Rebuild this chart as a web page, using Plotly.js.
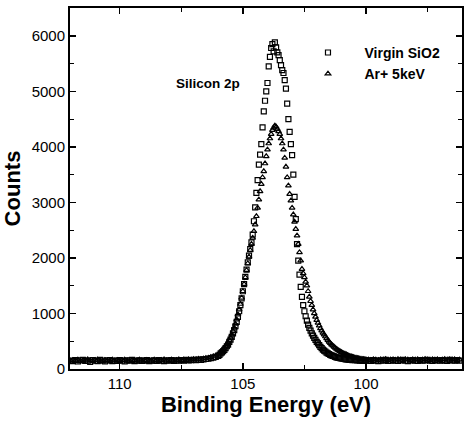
<!DOCTYPE html>
<html>
<head>
<meta charset="utf-8">
<script src="https://cdn.plot.ly/plotly-3.0.1.min.js"></script>
<style>html,body{margin:0;padding:0;background:#fff;}#chart{width:464px;height:421px;}</style>
</head>
<body>
<div id="chart"></div>
<script>
// Binding energy (eV) sampling points
const energy = [
112.0,111.9,111.8,111.7,111.6,111.5,111.4,111.3,111.2,111.1,
111.0,110.9,110.8,110.7,110.6,110.5,110.4,110.3,110.2,110.1,
110.0,109.9,109.8,109.7,109.6,109.5,109.4,109.3,109.2,109.1,
109.0,108.9,108.8,108.7,108.6,108.5,108.4,108.3,108.2,108.1,
108.0,107.9,107.8,107.7,107.6,107.5,107.4,107.3,107.2,107.1,
107.0,106.9,106.8,106.7,106.6,106.5,106.4,106.3,106.2,106.1,
106.0,
105.95,105.90,105.85,105.80,105.75,105.70,105.65,105.60,105.55,105.50,
105.45,105.40,105.35,105.30,105.25,105.20,105.15,105.10,105.05,105.00,
104.95,104.90,104.85,104.80,104.75,104.70,104.65,104.60,104.55,104.50,
104.45,104.40,104.35,104.30,104.25,104.20,104.15,104.10,104.05,104.00,
103.95,103.90,103.85,103.80,103.75,103.70,103.65,103.60,103.55,103.50,
103.45,103.40,103.35,103.30,103.25,103.20,103.15,103.10,103.05,103.00,
102.95,102.90,102.85,102.80,102.75,102.70,102.65,102.60,102.55,102.50,
102.45,102.40,102.35,102.30,102.25,102.20,102.15,102.10,102.05,102.00,
101.95,101.90,101.85,101.80,101.75,101.70,101.65,101.60,101.55,101.50,
101.45,101.40,101.35,101.30,101.25,101.20,101.15,101.10,101.05,101.00,
100.95,100.90,100.85,100.80,100.75,100.70,100.65,100.60,100.55,100.50,
100.45,100.40,100.35,100.30,100.25,100.20,100.15,100.10,100.05,100.00,
99.9,99.8,99.7,99.6,99.5,99.4,99.3,99.2,99.1,99.0,
98.9,98.8,98.7,98.6,98.5,98.4,98.3,98.2,98.1,98.0,
97.9,97.8,97.7,97.6,97.5,97.4,97.3,97.2,97.1,97.0,
96.9,96.8,96.7,96.6,96.5,96.4,96.3,96.2
];

// Counts, Virgin SiO2 (open squares)
const virginCounts = [
150,140,160,135,155,165,145,150,130,160,
150,140,165,150,135,155,160,140,150,145,
160,150,135,155,150,165,140,150,155,145,
150,160,140,150,155,145,160,150,140,155,
150,160,145,155,150,160,150,165,155,160,
165,160,170,165,175,180,185,195,205,220,
235,
255,280,300,320,345,375,410,440,490,530,
580,640,700,770,850,940,1040,1150,1270,1400,
1530,1660,1790,1920,2040,2160,2280,2420,2660,2910,
3170,3400,3680,3860,4050,4350,4640,4830,5000,5150,
5450,5620,5780,5850,5720,5880,5790,5700,5650,5560,
5470,5380,5330,5200,5050,4780,4500,4270,4050,3850,
3500,3100,2700,2250,1950,1700,1480,1300,1150,1040,
950,870,800,740,690,640,600,560,525,490,
460,430,400,375,350,330,315,295,280,270,
255,245,235,230,220,210,205,200,195,190,
185,180,178,175,172,170,165,168,160,165,
158,162,155,160,150,158,152,148,155,150,
155,145,160,150,140,155,150,165,145,150,
160,150,145,155,165,150,140,155,160,150,
145,160,150,155,165,150,145,160,155,150,
160,150,145,165,155,150,160,150
];

// Counts, Ar+ 5keV (open triangles)
const argonCounts = [
145,160,150,165,140,155,150,170,155,145,
160,165,150,140,160,155,145,165,150,160,
145,155,165,150,140,160,155,150,165,145,
155,160,150,145,165,155,150,160,170,150,
155,165,150,160,170,155,165,160,170,165,
175,170,180,175,185,195,200,210,225,240,
255,
280,310,330,355,380,410,445,480,520,565,
620,680,740,810,890,980,1070,1170,1280,1400,
1530,1650,1780,1900,2020,2140,2250,2360,2480,2600,
2750,2900,3050,3200,3330,3450,3560,3700,3830,3950,
4060,4150,4230,4300,4340,4380,4360,4320,4280,4230,
4150,4060,3950,3800,3640,3450,3300,3150,3030,2900,
2780,2650,2520,2400,2250,2100,1950,1800,1720,1650,
1570,1500,1400,1300,1220,1150,1070,1000,940,880,
830,780,730,690,650,620,585,550,520,490,
465,440,420,400,380,360,345,330,315,300,
290,280,270,260,250,240,232,225,218,210,
205,200,195,190,185,180,178,175,172,170,
168,160,172,165,158,170,165,175,160,168,
170,162,175,165,160,172,168,158,170,165,
172,160,168,175,165,158,170,165,172,160,
168,175,162,170,165,172,160,168
];

const seriesNames = ["Virgin SiO2", "Ar+ 5keV"];
const xTickVals = [110, 105, 100];
const yTickVals = [0, 1000, 2000, 3000, 4000, 5000, 6000];

const FONT = "Liberation Sans, Arial, sans-serif";

const traces = [
  {
    x: energy, y: virginCounts, name: seriesNames[0],
    type: "scatter", mode: "markers",
    marker: {symbol: "square-open", size: 5, color: "#000", line: {width: 1.2, color: "#000"}}
  },
  {
    x: energy, y: argonCounts, name: seriesNames[1],
    type: "scatter", mode: "markers",
    marker: {symbol: "triangle-up-open", size: 5, color: "#000", line: {width: 1.2, color: "#000"}}
  }
];

const layout = {
  width: 464, height: 421,
  margin: {l: 70, r: 2, t: 8, b: 52},
  paper_bgcolor: "#fff", plot_bgcolor: "#fff",
  font: {family: FONT, color: "#000"},
  showlegend: true,
  legend: {
    x: 0.565, y: 0.92, xanchor: "left", yanchor: "top",
    bgcolor: "rgba(0,0,0,0)", borderwidth: 0,
    itemwidth: 63,
    font: {family: FONT, size: 14, color: "#000", weight: "bold"}
  },
  xaxis: {
    range: [112.02, 96.1], autorange: false,
    tickvals: xTickVals, ticktext: xTickVals.map(String),
    ticks: "inside", ticklen: 6, tickwidth: 1.5, tickcolor: "#000",
    minor: {tickvals: [112.5,107.5,102.5,97.5], ticks: "inside", ticklen: 4, tickwidth: 1, tickcolor: "#000"},
    showline: true, linewidth: 2, linecolor: "#000", mirror: "ticks",
    showgrid: false, zeroline: false,
    tickfont: {family: FONT, size: 15, color: "#000"},
    title: {text: "Binding Energy (eV)", font: {family: FONT, size: 22, color: "#000", weight: "bold"}, standoff: 6}
  },
  yaxis: {
    range: [0, 6500], autorange: false,
    tickvals: yTickVals, ticktext: yTickVals.map(String),
    ticks: "inside", ticklen: 6, tickwidth: 1.5, tickcolor: "#000",
    minor: {dtick: 500, tick0: 0, ticks: "inside", ticklen: 4, tickwidth: 1, tickcolor: "#000"},
    showline: true, linewidth: 2, linecolor: "#000", mirror: "ticks",
    showgrid: false, zeroline: false,
    tickfont: {family: FONT, size: 15, color: "#000"},
    title: {text: "Counts", font: {family: FONT, size: 22, color: "#000", weight: "bold"}, standoff: 6}
  },
  annotations: [
    {text: "Silicon 2p", xref: "paper", yref: "paper", x: 0.353, y: 0.792,
     xanchor: "center", yanchor: "middle", showarrow: false,
     font: {family: FONT, size: 13.5, color: "#000", weight: "bold"}}
  ]
};

Plotly.newPlot("chart", traces, layout, {displayModeBar: false, staticPlot: true});
</script>
</body>
</html>
